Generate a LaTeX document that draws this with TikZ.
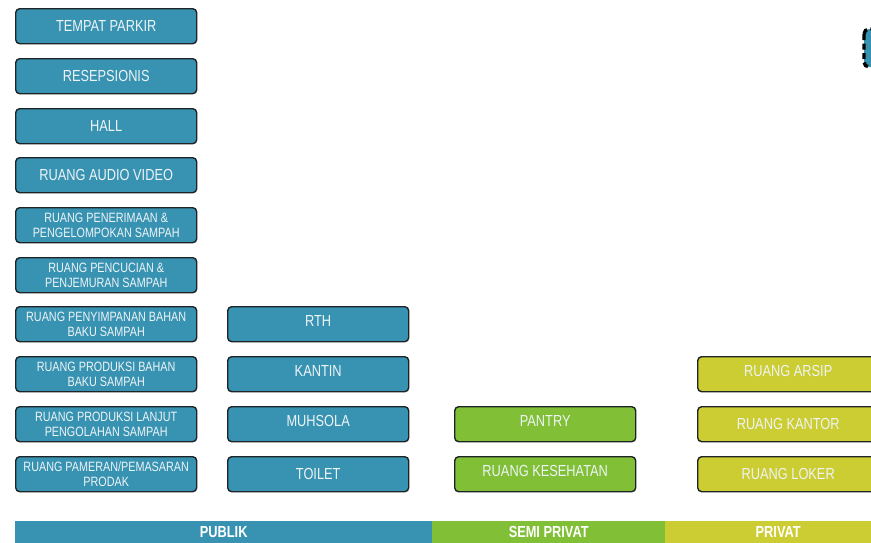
\documentclass[tikz,border=0pt]{standalone}
\usepackage{fontspec}
\setmainfont{Liberation Sans}[FakeStretch=0.8]
\definecolor{zonepublic}{HTML}{3893B3}
\definecolor{zonesemi}{HTML}{80BF36}
\definecolor{zoneprivate}{HTML}{CCCC33}
\definecolor{boxline}{HTML}{1E2326}
\definecolor{roomtext}{HTML}{EEF4F5}
\begin{document}
\begin{tikzpicture}[x=1pt,y=-1pt,
  room/.style={draw=boxline, line width=1.4pt, rounded corners=4pt,
    minimum width=181pt, minimum height=35pt, anchor=north west,
    inner sep=1pt, text=roomtext, align=center,
    font=\fontsize{16}{18}\selectfont},
  tworow/.style={font=\fontsize{13.5}{14.5}\selectfont},
  raised/.style={text depth=6pt},
  pub/.style={room, fill=zonepublic},
  semi/.style={room, fill=zonesemi},
  priv/.style={room, fill=zoneprivate},
  zonebar/.style={anchor=north west, inner sep=0pt, minimum height=22pt,
    text=white, font=\bfseries\fontsize{16}{18}\selectfont}]
\useasboundingbox (0,0) rectangle (871,542);
\clip (0,0) rectangle (871,542);

% public rooms, first column
\node[pub] (parkir) at (15,8) {TEMPAT PARKIR};
\node[pub] (resepsionis) at (15,58) {RESEPSIONIS};
\node[pub] (hall) at (15,108) {HALL};
\node[pub] (audio) at (15,157) {RUANG AUDIO VIDEO};
\node[pub,tworow] (penerimaan) at (15,207) {RUANG PENERIMAAN \&\\PENGELOMPOKAN SAMPAH};
\node[pub,tworow] (pencucian) at (15,257) {RUANG PENCUCIAN \&\\PENJEMURAN SAMPAH};
\node[pub,tworow] (penyimpanan) at (15,306) {RUANG PENYIMPANAN BAHAN\\BAKU SAMPAH};
\node[pub,tworow] (produksi) at (15,356) {RUANG PRODUKSI BAHAN\\BAKU SAMPAH};
\node[pub,tworow] (lanjut) at (15,406) {RUANG PRODUKSI LANJUT\\PENGOLAHAN SAMPAH};
\node[pub,tworow] (pameran) at (15,456) {RUANG PAMERAN/PEMASARAN\\PRODAK};

% public rooms, second column
\node[pub,raised] (rth) at (227,306) {RTH};
\node[pub,raised] (kantin) at (227,356) {KANTIN};
\node[pub,raised] (muhsola) at (227,406) {MUHSOLA};
\node[pub] (toilet) at (227,456) {TOILET};

% semi-private rooms
\node[semi,raised] (pantry) at (454,406) {PANTRY};
\node[semi,raised] (kesehatan) at (454,456) {RUANG KESEHATAN};

% private rooms
\node[priv,raised] (arsip) at (697,356) {RUANG ARSIP};
\node[priv] (kantor) at (697,406) {RUANG KANTOR};
\node[priv] (loker) at (697,456) {RUANG LOKER};

% dashed block at the top edge
\draw[fill=zonepublic, draw=black, line width=3.4pt,
  dash pattern=on 6pt off 3.5pt, rounded corners=5pt]
  (864,29) rectangle (900,67);

% zone legend bar
\node[zonebar, fill=zonepublic, minimum width=417pt] (publik) at (15,521) {PUBLIK};
\node[zonebar, fill=zonesemi, minimum width=233pt] (semiprivat) at (432,521) {SEMI PRIVAT};
\node[zonebar, fill=zoneprivate, minimum width=226pt] (privat) at (665,521) {PRIVAT};
\end{tikzpicture}
\end{document}
